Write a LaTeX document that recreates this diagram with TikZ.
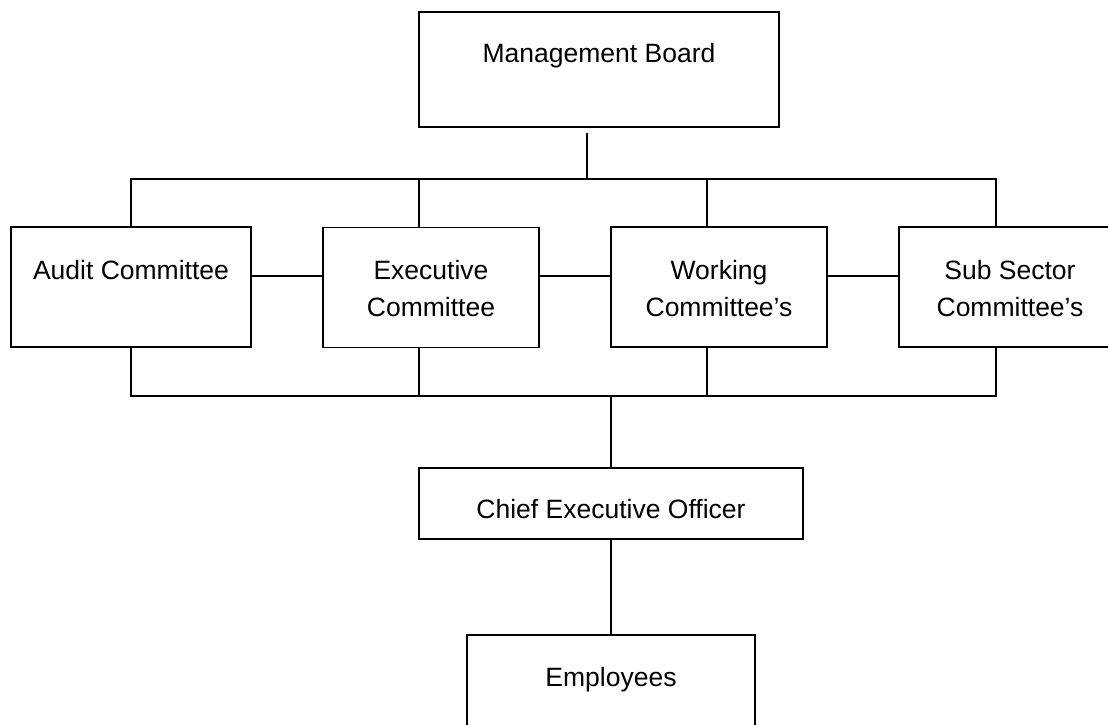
\documentclass[tikz,border=0pt]{standalone}
\usepackage{fontspec}
\setmainfont{Liberation Sans}
\begin{document}
\begin{tikzpicture}[x=1pt,y=-1pt,
  box/.style={draw=black,line width=1.5pt,inner sep=0pt,minimum width=#1},
  txt/.style={anchor=base,align=center,inner sep=0pt,font=\fontsize{26.5}{37}\selectfont},
  conn/.style={draw=black,line width=1.5pt}]
\useasboundingbox (0,0) rectangle (1108,725);
\clip (0,0) rectangle (1108,725);
% boxes
\node[box=360pt,minimum height=115pt] (mb) at (599,69.5) {};
\node[box=240pt,minimum height=120pt] (audit) at (131,287) {};
\node[box=216pt,minimum height=120pt] (exec) at (431,287.5) {};
\node[box=216pt,minimum height=120pt] (work) at (719,287) {};
\node[box=221pt,minimum height=120pt] (sub) at (1009.5,287) {};
\node[box=384pt,minimum height=71pt] (ceo) at (611,503.5) {};
\node[box=288pt,minimum height=105pt] (emp) at (611,687.5) {};
% texts
\node[txt] (mbt) at (599,63) {Management Board};
\node[txt] (auditt) at (131,279) {Audit Committee};
\node[txt] (exect) at (431,316) {Executive\\Committee};
\node[txt] (workt) at (719,316) {Working\\Committee’s};
\node[txt] (subt) at (1010,316) {Sub Sector\\Committee’s};
\node[txt] (ceot) at (611,518) {Chief Executive Officer};
\node[txt] (empt) at (611,686) {Employees};
% junction coordinates
\coordinate (jt) at (587,179);
\coordinate (ta) at (131,179);
\coordinate (te) at (419,179);
\coordinate (tw) at (707,179);
\coordinate (ts) at (996,179);
\coordinate (ba) at (131,396);
\coordinate (be) at (419,396);
\coordinate (bw) at (707,396);
\coordinate (bs) at (996,396);
\coordinate (jb) at (611,396);
\coordinate (mid) at (0,276);
% connectors
\draw[conn] ([yshift=-5pt]mb.south -| jt) -- (jt);
\draw[conn] (audit.north -| ta) -- (ta) -- (ts) -- (sub.north -| ts);
\draw[conn] (te) -- (exec.north -| te);
\draw[conn] (tw) -- (work.north -| tw);
\draw[conn] (audit.east |- mid) -- (exec.west |- mid);
\draw[conn] (exec.east |- mid) -- (work.west |- mid);
\draw[conn] (work.east |- mid) -- (sub.west |- mid);
\draw[conn] (audit.south -| ba) -- (ba) -- (bs) -- (sub.south -| bs);
\draw[conn] (exec.south -| be) -- (be);
\draw[conn] (work.south -| bw) -- (bw);
\draw[conn] (jb) -- (ceo.north -| jb);
\draw[conn] (ceo) -- (emp);
\end{tikzpicture}
\end{document}
